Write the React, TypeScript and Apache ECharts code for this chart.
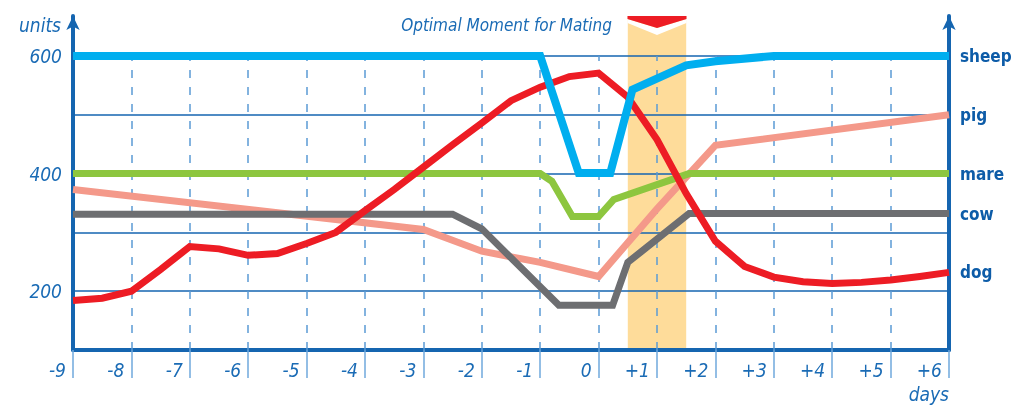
import React, { useEffect, useRef } from "react";
import * as echarts from "echarts";

const xTicks = [-9, -8, -7, -6, -5, -4, -3, -2, -1, 0, 1, 2, 3, 4, 5, 6];
const yGridValues = [200, 300, 400, 500, 600];
const yLabelValues = [200, 400, 600];
const dashedDays = [-8, -7, -6, -5, -4, -3, -2, -1, 0, 1, 2, 3, 4, 5];
const optimalBand = [0.5, 1.5];

const sheep: [number, number][] = [
  [-9, 600], [-1.0, 600], [-0.34, 401], [0.2, 401], [0.58, 543], [1.5, 584], [2, 591], [3, 600], [6, 600],
];
const dog: [number, number][] = [
  [-9, 184], [-8.5, 188], [-8, 200], [-7.5, 237], [-7, 276], [-6.5, 272], [-6, 261], [-5.5, 264], [-5, 281],
  [-4.5, 300], [-4, 337], [-3.5, 373], [-3, 411], [-2.5, 449], [-2, 486], [-1.5, 524], [-1, 547], [-0.5, 565],
  [0, 571], [0.5, 530], [1, 458], [1.5, 366], [2, 285], [2.5, 242], [3, 224], [3.5, 216], [4, 213], [4.5, 215],
  [5, 219], [5.5, 225], [6, 232],
];
const pig: [number, number][] = [
  [-9, 373], [-3, 305], [-2, 268], [-1, 249], [0, 225], [1, 340], [2, 448], [6, 500],
];
const mare: [number, number][] = [
  [-9, 400], [-1, 400], [-0.8, 387], [-0.45, 327], [0, 327], [0.26, 356], [1.55, 400], [6, 400],
];
const cow: [number, number][] = [
  [-9, 331], [-2.5, 331], [-2, 306], [-0.68, 176], [0.24, 176], [0.5, 249], [1.55, 332], [6, 332],
];

const AXIS_BLUE = "#1565b0";
const TEXT_BLUE = "#1a6bb5";
const LABEL_BLUE = "#0d5ca8";
const ITALIC_FONT = "'Liberation Sans Narrow', 'DejaVu Sans Condensed', 'Open Sans', sans-serif";
const BOLD_FONT = "'Liberation Sans Narrow', 'DejaVu Sans Condensed', 'Open Sans', sans-serif";

function lineSeries(name: string, data: [number, number][], color: string, width: number) {
  return {
    name,
    type: "line",
    data,
    symbol: "none",
    z: 3,
    lineStyle: { color, width, join: "miter", cap: "butt" },
    endLabel: {
      show: true,
      formatter: name,
      color: LABEL_BLUE,
      fontWeight: "bold",
      fontSize: 17,
      fontFamily: BOLD_FONT,
      distance: 11,
    },
    emphasis: { disabled: true },
  };
}

export default function App() {
  const ref = useRef<HTMLDivElement>(null);
  useEffect(() => {
    if (!ref.current) return;
    const chart = echarts.init(ref.current, null, { renderer: "svg" });
    const yMin = 100;
    const yMax = 668;
    chart.setOption({
      animation: false,
      title: {
        text: "Optimal Moment for Mating",
        right: 394,
        top: 11,
        textStyle: { color: TEXT_BLUE, fontStyle: "italic", fontWeight: "normal", fontSize: 17, fontFamily: ITALIC_FONT },
      },
      grid: { left: 73, right: 62, top: 16, bottom: 55, containLabel: false },
      xAxis: {
        type: "value",
        min: -9,
        max: 6,
        interval: 1,
        name: "days",
        nameLocation: "end",
        nameGap: 0,
        nameTextStyle: {
          color: TEXT_BLUE, fontStyle: "italic", fontSize: 19, fontFamily: ITALIC_FONT,
          align: "right", verticalAlign: "top", padding: [34, 0, 0, 0],
        },
        axisLine: { onZero: false, lineStyle: { color: AXIS_BLUE, width: 4 } },
        axisTick: { show: true, length: 28, lineStyle: { color: "#6fa8dc", width: 1.5 } },
        axisLabel: {
          color: TEXT_BLUE,
          fontStyle: "italic",
          fontSize: 19,
          fontFamily: ITALIC_FONT,
          margin: 10,
          align: "right",
          padding: [0, 7, 0, 0],
          formatter: (v: number) => (xTicks.includes(v) ? (v > 0 ? "+" + v : String(v)) : ""),
        },
        splitLine: { show: false },
      },
      yAxis: [
        {
          type: "value",
          min: yMin,
          max: yMax,
          interval: 100,
          position: "left",
          name: "units",
          nameLocation: "end",
          nameGap: -9,
          nameTextStyle: {
            color: TEXT_BLUE, fontStyle: "italic", fontSize: 19, fontFamily: ITALIC_FONT,
            align: "right", verticalAlign: "middle", padding: [0, 12, 0, 0],
          },
          axisLine: { show: true, onZero: false, symbol: ["none", "arrow"], symbolSize: [10, 14], lineStyle: { color: AXIS_BLUE, width: 4 } },
          axisTick: { show: false },
          axisLabel: {
            color: TEXT_BLUE,
            fontStyle: "italic",
            fontSize: 19,
            fontFamily: ITALIC_FONT,
            margin: 11,
            formatter: (v: number) => (yLabelValues.includes(v) ? String(v) : ""),
          },
          splitLine: { show: false },
        },
        {
          type: "value",
          min: yMin,
          max: yMax,
          interval: 100,
          position: "right",
          axisLine: { show: true, onZero: false, symbol: ["none", "arrow"], symbolSize: [10, 14], lineStyle: { color: AXIS_BLUE, width: 4 } },
          axisTick: { show: false },
          axisLabel: { show: false },
          splitLine: { show: false },
        },
      ],
      series: [
        {
          name: "grid",
          type: "line",
          data: [[-9, yMin]],
          symbol: "none",
          z: 1,
          lineStyle: { opacity: 0 },
          silent: true,
          markArea: {
            silent: true,
            z: 0,
            itemStyle: { color: "#fedc9a", opacity: 1 },
            data: [[{ xAxis: optimalBand[0] }, { xAxis: optimalBand[1] }]],
          },
          markLine: {
            silent: true,
            z: 1,
            symbol: ["none", "none"],
            label: { show: false },
            data: [
              ...yGridValues.map((v) => ({ yAxis: v, lineStyle: { color: AXIS_BLUE, width: 1.5, type: "solid" } })),
              ...dashedDays.map((d) => [
                { coord: [d, yMin], lineStyle: { color: "#5b9bd5", width: 1.5, type: [8, 9] } },
                { coord: [d, 600] },
              ]),
            ],
          },
        },
        lineSeries("pig", pig, "#f4998a", 7),
        lineSeries("cow", cow, "#6d6e71", 7),
        lineSeries("mare", mare, "#8dc63f", 7),
        lineSeries("dog", dog, "#ed1c24", 7),
        lineSeries("sheep", sheep, "#00aeef", 8),
        {
          name: "marker",
          type: "scatter",
          z: 4,
          silent: true,
          clip: false,
          itemStyle: { opacity: 1 },
          data: [
            {
              value: [(optimalBand[0] + optimalBand[1]) / 2, yMax],
              symbol: "path://M0,3 L29,12 L58,3 L58,7 L29,19 L0,7 Z",
              symbolSize: [59, 16],
              symbolOffset: [0, 11],
              itemStyle: { color: "#ffffff", opacity: 1 },
            },
            {
              value: [(optimalBand[0] + optimalBand[1]) / 2, yMax],
              symbol: "path://M0,0 L58,0 L58,3 L29,12 L0,3 Z",
              symbolSize: [59, 12],
              symbolOffset: [0, 6],
              itemStyle: { color: "#ed1c24", opacity: 1 },
            },
          ],
        },
      ],
    });
    return () => chart.dispose();
  }, []);
  return <div ref={ref} style={{ position: "fixed", left: 0, top: 0, width: 1011, height: 405 }} />;
}
